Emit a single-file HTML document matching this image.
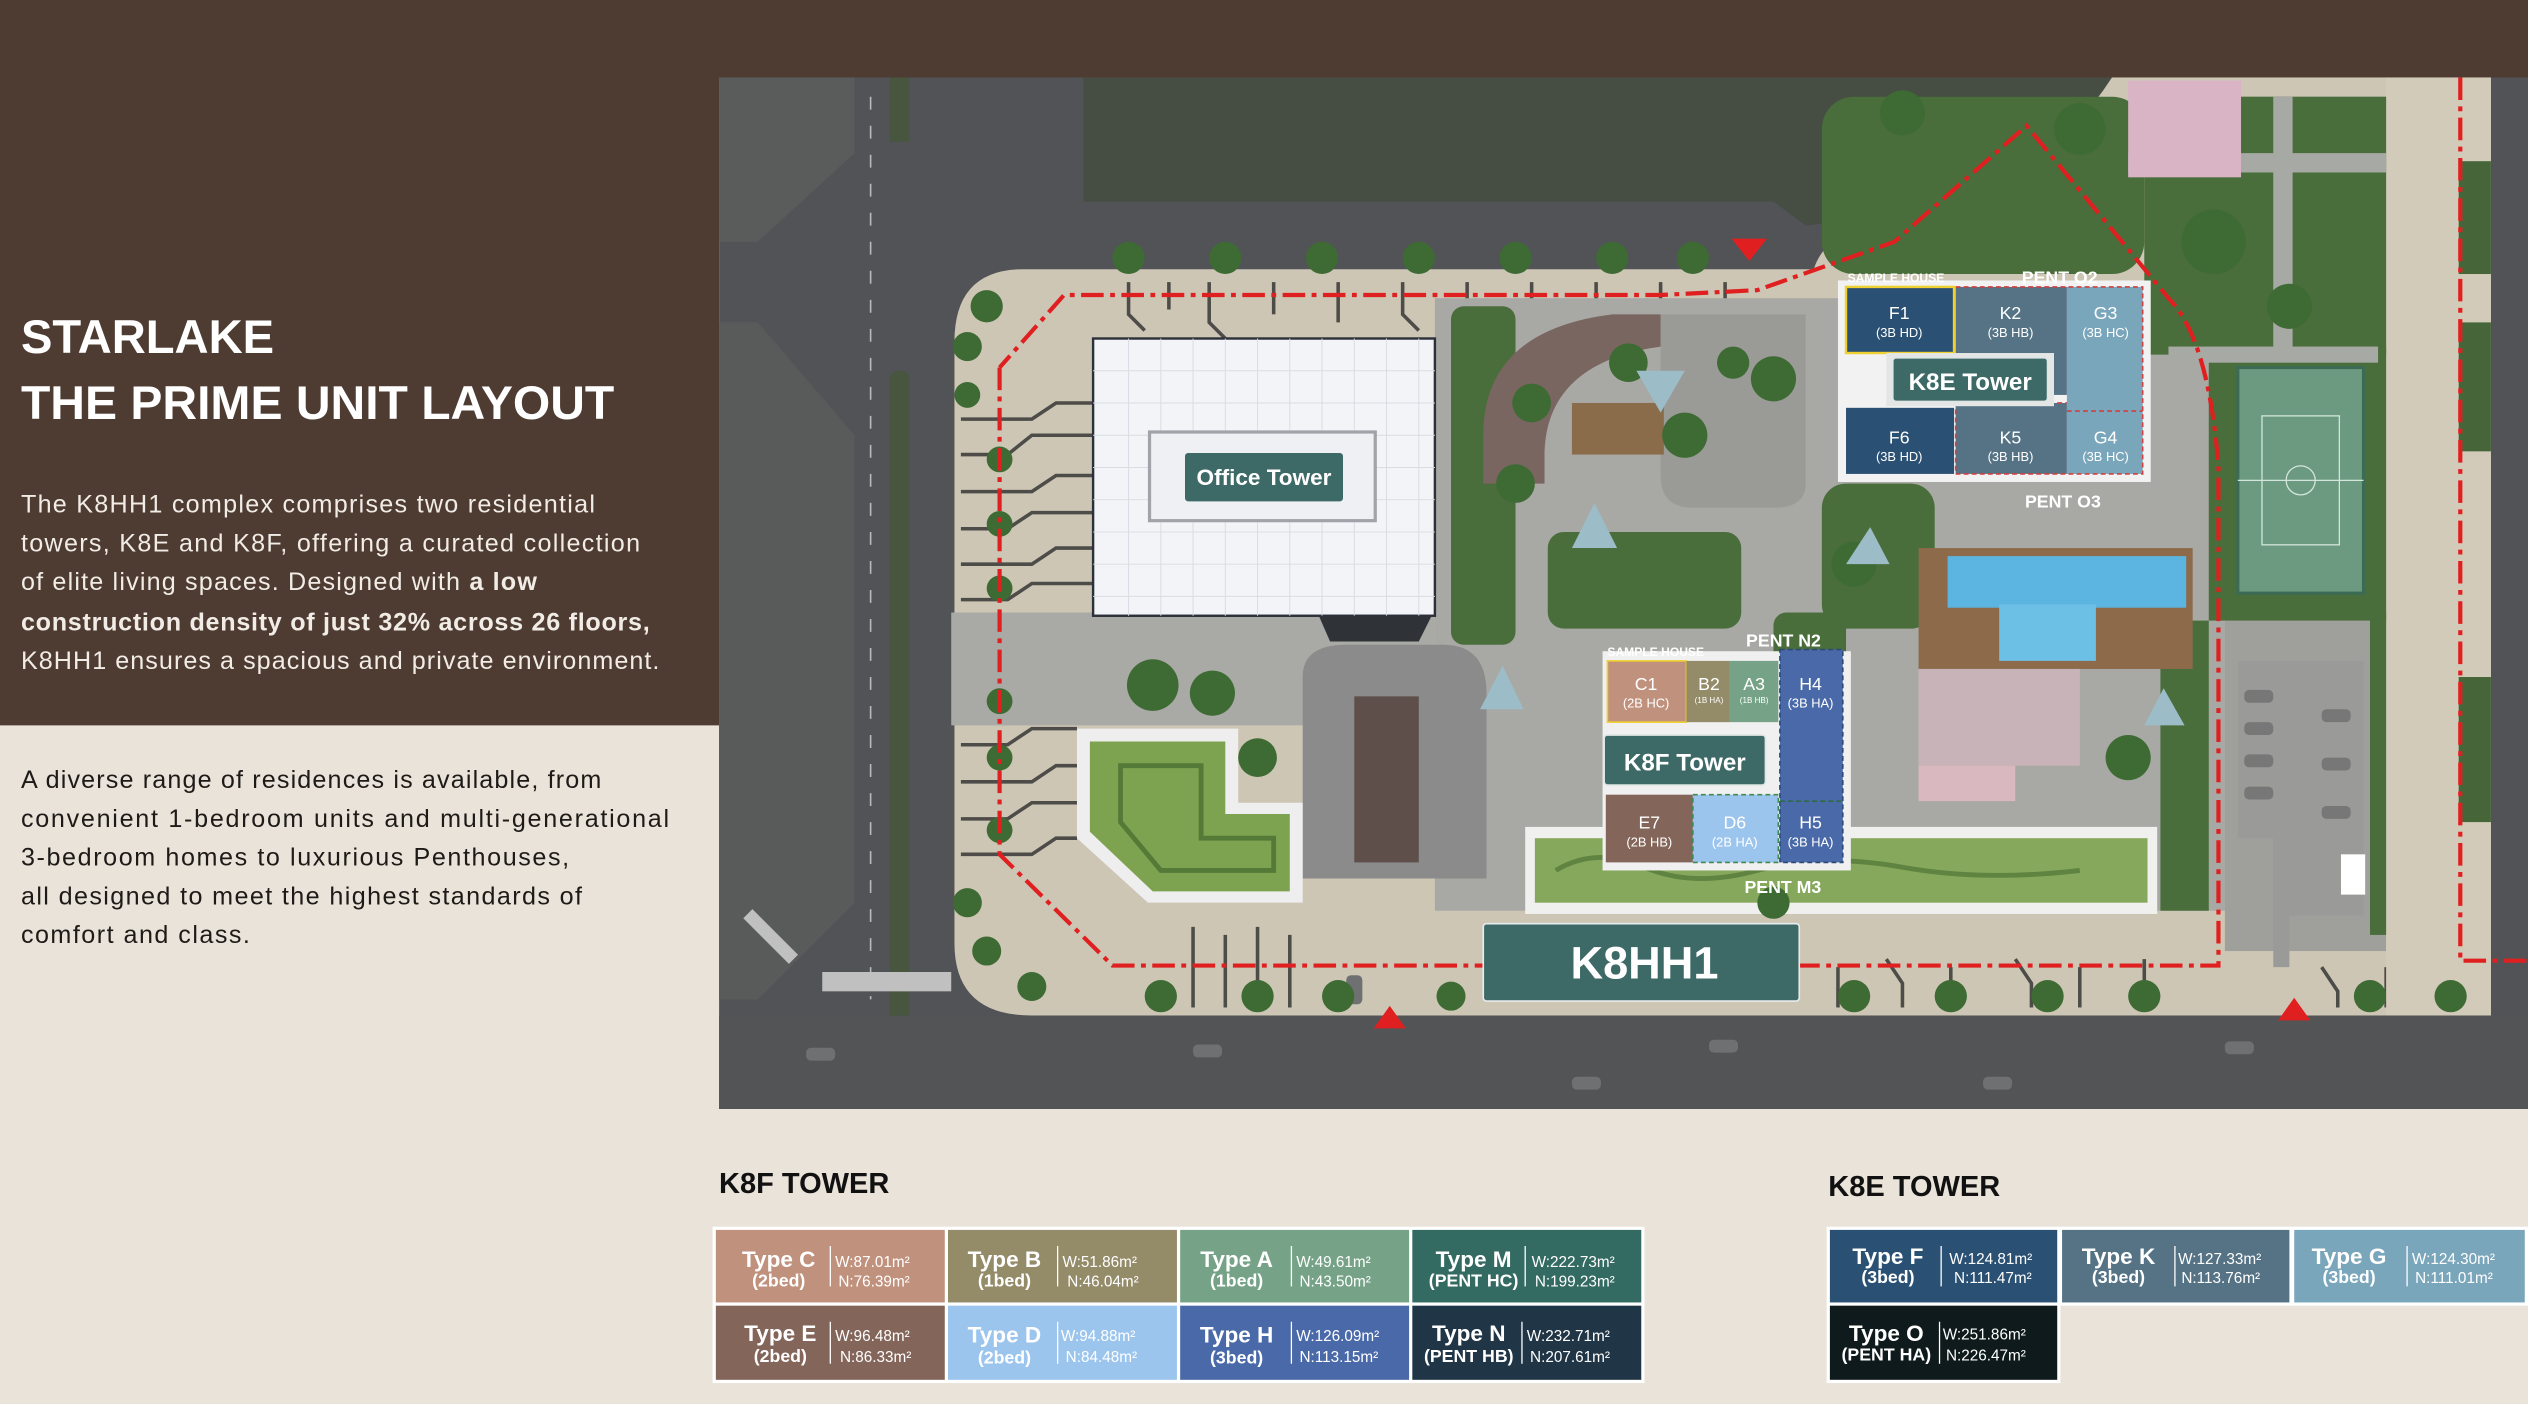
<!DOCTYPE html>
<html><head><meta charset="utf-8"><style>
html,body{margin:0;padding:0;background:#e9e3d9;}
svg{display:block}
.t{font-family:"Liberation Sans",sans-serif}
.n{font-family:"Liberation Sans Narrow","Liberation Sans",sans-serif}
</style></head><body>
<svg width="2528" height="1404" viewBox="0 0 1568 871" preserveAspectRatio="none" xmlns="http://www.w3.org/2000/svg">
<rect x="0" y="0" width="1568" height="871" fill="#e9e3d9"/>
<rect x="0" y="0" width="1568" height="49" fill="#4e3c33"/>
<rect x="0" y="0" width="446" height="450" fill="#4e3c33"/>
<g class="t" fill="#fff">
<text x="13" y="219" font-size="29.5" font-weight="bold" textLength="157" lengthAdjust="spacingAndGlyphs">STARLAKE</text>
<text x="13" y="260" font-size="29.5" font-weight="bold" textLength="368" lengthAdjust="spacingAndGlyphs">THE PRIME UNIT LAYOUT</text>
</g>
<g class="t" font-size="15.6" fill="#f1ece6">
<text x="13" y="318" textLength="356">The K8HH1 complex comprises two residential</text>
<text x="13" y="342" textLength="384">towers, K8E and K8F, offering a curated collection</text>
<text x="13" y="366" textLength="320">of elite living spaces. Designed with <tspan font-weight="bold">a low</tspan></text>
<text x="13" y="391" font-weight="bold" textLength="390">construction density of just 32% across 26 floors,</text>
<text x="13" y="415" textLength="396">K8HH1 ensures a spacious and private environment.</text>
</g>
<g class="t" font-size="15.6" fill="#1e1a17">
<text x="13" y="489" textLength="360">A diverse range of residences is available, from</text>
<text x="13" y="513" textLength="402">convenient 1-bedroom units and multi-generational</text>
<text x="13" y="537" textLength="340">3-bedroom homes to luxurious Penthouses,</text>
<text x="13" y="561" textLength="348">all designed to meet the highest standards of</text>
<text x="13" y="585" textLength="142">comfort and class.</text>
</g>

<!-- MAP -->
<svg x="446" y="48" width="1122" height="640" viewBox="446 48 1122 640" overflow="hidden">
<rect x="446" y="48" width="1122" height="640" fill="#515356"/>
<polygon points="446,48 530,48 530,95 470,150 446,150" fill="#5a5c5c"/>
<polygon points="446,200 470,200 530,270 530,560 470,620 446,620" fill="#595b5b"/>
<rect x="552" y="230" width="12" height="470" fill="#48563f" rx="5"/>
<rect x="552" y="48" width="12" height="40" fill="#48563f"/>
<polygon points="672,48 1330,48 1300,80 1250,110 1190,130 1120,140 1100,125 672,125" fill="#464d43"/>
<path d="M635,167 L1125,167 Q1135,135 1200,130 Q1270,110 1310,48 L1545,48 L1545,630 L640,630 Q592,630 592,585 L592,212 Q592,167 635,167 Z" fill="#cdc6b5"/>
<g stroke="#4d4c48" stroke-width="2.2" fill="none">
<path d="M596,260 H640 L655,250 H680"/><path d="M596,282 H625 L640,270 H680"/><path d="M596,305 H640 L655,295 H680"/><path d="M596,328 H625 L640,318 H680"/><path d="M596,350 H640 L655,340 H680"/><path d="M596,372 H625 L640,362 H680"/>
<path d="M596,440 H640 L655,430 H668"/><path d="M596,462 H625 L640,452 H668"/><path d="M596,485 H640 L655,475 H668"/><path d="M596,508 H625 L640,498 H668"/><path d="M596,530 H640 L655,520 H668"/>
<path d="M700,175 V195 L710,205"/><path d="M725,175 V192"/><path d="M750,175 V200 L760,210"/><path d="M790,175 V195"/><path d="M830,175 V200"/><path d="M870,175 V195 L880,205"/><path d="M910,175 V200"/><path d="M950,175 V195"/><path d="M990,175 V200"/><path d="M1030,175 V195"/><path d="M1070,175 V200"/>
<path d="M740,575 V625"/><path d="M760,580 V625"/><path d="M780,575 V625"/><path d="M800,580 V625"/><path d="M1140,600 V625"/><path d="M1170,595 L1180,610 V625"/><path d="M1210,600 V625"/><path d="M1250,595 L1260,610 V625"/><path d="M1290,600 V625"/><path d="M1330,595 V625"/><path d="M1440,600 L1450,615 V625"/><path d="M1480,600 V625"/>
</g>
<rect x="890" y="185" width="490" height="380" fill="#a8a8a4"/>
<rect x="590" y="380" width="300" height="70" fill="#a9a9a5"/>
<rect x="1380" y="60" width="100" height="530" fill="#9fa09b"/>
<rect x="1480" y="48" width="65" height="582" fill="#d3cbb9"/>
<g fill="#46663a"><rect x="1525" y="100" width="20" height="70"/><rect x="1525" y="200" width="20" height="80"/><rect x="1525" y="420" width="20" height="90"/></g>
<g fill="#4a6e3b">
<rect x="1130" y="60" width="200" height="110" rx="20"/>
<rect x="1330" y="60" width="150" height="160"/>
<rect x="1370" y="215" width="110" height="170"/>
<rect x="1470" y="380" width="10" height="200"/>
<rect x="1130" y="300" width="70" height="90" rx="15"/>
<rect x="900" y="190" width="40" height="210" rx="8"/>
<rect x="1100" y="380" width="45" height="130" rx="8"/>
<rect x="960" y="330" width="120" height="60" rx="10"/>
<rect x="1340" y="385" width="30" height="180"/>
</g>
<g fill="#a7a9a4"><rect x="1320" y="95" width="160" height="12"/><rect x="1410" y="60" width="12" height="160"/><rect x="1345" y="215" width="130" height="10"/></g>
<rect x="1320" y="50" width="70" height="60" fill="#d8b4c5"/>
<path d="M1030,195 H1120 V300 Q1120,315 1100,315 H1050 Q1030,315 1030,295 Z" fill="#9a9a97"/>
<path d="M920,270 Q920,205 1000,195 L1030,195 L1030,215 Q960,225 958,280 L958,300 L920,300 Z" fill="#7a6660"/>
<rect x="975" y="250" width="57" height="32" fill="#8b6c4a"/>
<rect x="678" y="210" width="212" height="172" fill="#f2f4f7" stroke="#2c3038" stroke-width="1.5"/>
<g stroke="#d8dde4" stroke-width="0.6">
<path d="M678,230H890M678,250H890M678,270H890M678,290H890M678,310H890M678,330H890M678,350H890M678,370H890"/>
<path d="M700,210V382M720,210V382M740,210V382M760,210V382M780,210V382M800,210V382M820,210V382M840,210V382M860,210V382M880,210V382"/>
</g>
<rect x="713" y="268" width="140" height="55" fill="#eef0f3" stroke="#a0a4aa" stroke-width="2"/>
<rect x="735" y="281" width="98" height="30" rx="2" fill="#3d6a67"/>
<text x="784" y="301" class="t" font-size="14" font-weight="bold" fill="#fff" text-anchor="middle">Office Tower</text>
<path d="M818,382 L825,398 H880 L888,382 Z" fill="#2f3338"/>
<path d="M808,420 Q808,400 835,400 H895 Q922,400 922,430 V545 H808 Z" fill="#8a8b8a"/>
<rect x="840" y="432" width="40" height="103" fill="#5e4f4b"/>
<path d="M668,452 H768 V498 H808 V560 H712 L668,520 Z" fill="#eeeeee"/>
<path d="M676,460 H760 V505 H800 V553 H715 L676,516 Z" fill="#7ea350"/>
<path d="M695,475 H745 V520 H790 V540 H720 L695,510 Z" fill="none" stroke="#557a38" stroke-width="3"/>
<rect x="946" y="513" width="392" height="54" fill="#f0f0ee"/>
<rect x="952" y="520" width="380" height="40" fill="#86a85c"/>
<path d="M965,540 Q990,525 1020,538 T1090,540 T1180,538 T1290,540" stroke="#5f8340" stroke-width="3" fill="none"/>
<rect x="1190" y="340" width="170" height="75" fill="#8d6a4a"/>
<rect x="1208" y="345" width="148" height="32" fill="#5cb5e0"/>
<rect x="1240" y="375" width="60" height="35" fill="#6cc0e6"/>
<rect x="1190" y="415" width="100" height="60" fill="#c8b4b8"/>
<rect x="1190" y="475" width="60" height="22" fill="#d9b8c0"/>
<rect x="1388" y="228" width="78" height="140" fill="#6b9a80" stroke="#3c6b55" stroke-width="2"/>
<g stroke="#d4e6dc" stroke-width="0.8" fill="none"><rect x="1403" y="258" width="48" height="80"/><line x1="1388" y1="298" x2="1466" y2="298"/><circle cx="1427" cy="298" r="9"/></g>
<path d="M1388,410 H1466 V568 H1420 V600 H1410 V520 H1388 Z" fill="#9a9a98"/>
<g fill="#777"><rect x="1392" y="428" width="18" height="8" rx="3"/><rect x="1392" y="448" width="18" height="8" rx="3"/><rect x="1392" y="468" width="18" height="8" rx="3"/><rect x="1392" y="488" width="18" height="8" rx="3"/><rect x="1440" y="440" width="18" height="8" rx="3"/><rect x="1440" y="470" width="18" height="8" rx="3"/><rect x="1440" y="500" width="18" height="8" rx="3"/></g>
<rect x="1452" y="530" width="15" height="25" fill="#fff"/>
<g stroke="#b9b9b9" stroke-width="1" stroke-dasharray="8,10" fill="none">
<path d="M540,60 V620"/><path d="M700,662 H1568"/>
</g>
<g fill="#c0c0c0"><rect x="458" y="577" width="40" height="8" transform="rotate(45 478 581)"/><rect x="510" y="603" width="80" height="12"/></g>
<rect x="446" y="630" width="1122" height="58" fill="#525456"/>
<g fill="#6f7072"><rect x="500" y="650" width="18" height="8" rx="3"/><rect x="740" y="648" width="18" height="8" rx="3"/><rect x="975" y="668" width="18" height="8" rx="3"/><rect x="1060" y="645" width="18" height="8" rx="3"/><rect x="1230" y="668" width="18" height="8" rx="3"/><rect x="1380" y="646" width="18" height="8" rx="3"/><rect x="835" y="605" width="10" height="18" rx="3"/></g>
<g fill="#3e6a34">
<circle cx="612" cy="190" r="10"/><circle cx="600" cy="215" r="9"/><circle cx="600" cy="245" r="8"/><circle cx="620" cy="285" r="8"/><circle cx="620" cy="325" r="8"/><circle cx="620" cy="365" r="8"/><circle cx="620" cy="435" r="8"/><circle cx="620" cy="470" r="8"/><circle cx="620" cy="515" r="8"/><circle cx="600" cy="560" r="9"/><circle cx="612" cy="590" r="9"/><circle cx="640" cy="612" r="9"/><circle cx="700" cy="160" r="10"/><circle cx="760" cy="160" r="10"/><circle cx="820" cy="160" r="10"/><circle cx="880" cy="160" r="10"/><circle cx="940" cy="160" r="10"/><circle cx="1000" cy="160" r="10"/><circle cx="1050" cy="160" r="10"/><circle cx="720" cy="618" r="10"/><circle cx="780" cy="618" r="10"/><circle cx="830" cy="618" r="10"/><circle cx="900" cy="618" r="9"/><circle cx="1150" cy="618" r="10"/><circle cx="1210" cy="618" r="10"/><circle cx="1270" cy="618" r="10"/><circle cx="1330" cy="618" r="10"/><circle cx="1470" cy="618" r="10"/><circle cx="1520" cy="618" r="10"/><circle cx="715" cy="425" r="16"/><circle cx="752" cy="430" r="14"/><circle cx="780" cy="470" r="12"/><circle cx="1373" cy="150" r="20"/><circle cx="1420" cy="190" r="14"/><circle cx="1290" cy="80" r="16"/><circle cx="1180" cy="70" r="14"/><circle cx="1100" cy="235" r="14"/><circle cx="1150" cy="350" r="14"/><circle cx="1010" cy="225" r="12"/><circle cx="940" cy="300" r="12"/><circle cx="1045" cy="270" r="14"/><circle cx="1075" cy="225" r="10"/><circle cx="950" cy="250" r="12"/><circle cx="1100" cy="560" r="10"/><circle cx="1320" cy="470" r="14"/></g>
<g fill="#9cbcc8"><path d="M1015,230 L1045,230 L1030,256 Z"/><path d="M975,340 L1003,340 L989,312 Z"/><path d="M918,440 L945,440 L932,413 Z"/><path d="M1145,350 L1172,350 L1160,327 Z"/><path d="M1330,450 L1355,450 L1342,427 Z"/></g>
<rect x="1140" y="174" width="194" height="125" fill="#f2f2f2"/>
<rect x="1145" y="178" width="67" height="41" fill="#2a5073" stroke="#f0d030" stroke-width="1.5"/>
<rect x="1213" y="178" width="69" height="67" fill="#557385"/>
<rect x="1282" y="178" width="47" height="77" fill="#7aa6bb"/>
<rect x="1145" y="253" width="67" height="41" fill="#2a5073"/>
<rect x="1213" y="250" width="69" height="44" fill="#557385"/>
<rect x="1282" y="255" width="47" height="39" fill="#7aa6bb"/>
<path d="M1213,178 H1329 V294 H1213 V250 H1282 M1282,255 H1329" fill="none" stroke="#d04040" stroke-width="1" stroke-dasharray="3,2"/>
<rect x="1170" y="219" width="104" height="33" fill="#e4e6e6"/>
<rect x="1174" y="222" width="96" height="27" rx="2" fill="#3d6a67" stroke="#dfe5e4" stroke-width="1"/>
<text x="1222" y="242" class="t" font-size="15" font-weight="bold" fill="#fff" text-anchor="middle">K8E Tower</text>
<g class="t" fill="#fff" text-anchor="middle">
<text x="1178" y="198" font-size="11">F1</text><text x="1178" y="209" font-size="8">(3B HD)</text>
<text x="1247" y="198" font-size="11">K2</text><text x="1247" y="209" font-size="8">(3B HB)</text>
<text x="1306" y="198" font-size="11">G3</text><text x="1306" y="209" font-size="8">(3B HC)</text>
<text x="1178" y="275" font-size="11">F6</text><text x="1178" y="286" font-size="8">(3B HD)</text>
<text x="1247" y="275" font-size="11">K5</text><text x="1247" y="286" font-size="8">(3B HB)</text>
<text x="1306" y="275" font-size="11">G4</text><text x="1306" y="286" font-size="8">(3B HC)</text>
</g>
<g class="t" fill="#fff" font-weight="bold">
<text x="1146" y="175" font-size="7.5">SAMPLE HOUSE</text>
<text x="1254" y="176" font-size="11">PENT O2</text>
<text x="1256" y="315" font-size="11">PENT O3</text>
</g>
<rect x="994" y="404" width="154" height="136" fill="#f0f0f0"/>
<rect x="997" y="410" width="49" height="38" fill="#c0917c" stroke="#f0d030" stroke-width="1"/>
<rect x="1046" y="410" width="27" height="38" fill="#948b69"/>
<rect x="1073" y="410" width="30" height="38" fill="#76a387"/>
<rect x="1104" y="403" width="39" height="132" fill="#4a69a8" stroke="#2b4a78" stroke-width="1" stroke-dasharray="3,2"/>
<line x1="1104" y1="497" x2="1143" y2="497" stroke="#2f6a4a" stroke-dasharray="3,2"/>
<rect x="996" y="493" width="54" height="42" fill="#84655a"/>
<rect x="1050" y="493" width="53" height="42" fill="#9cc5ee" stroke="#3f8a4f" stroke-width="1" stroke-dasharray="3,2"/>
<rect x="995" y="456" width="100" height="31" rx="2" fill="#3d6a67" stroke="#e0e6e5" stroke-width="1"/>
<text x="1045" y="478" class="t" font-size="15" font-weight="bold" fill="#fff" text-anchor="middle">K8F Tower</text>
<g class="t" fill="#fff" text-anchor="middle">
<text x="1021" y="428" font-size="11">C1</text><text x="1021" y="439" font-size="8">(2B HC)</text>
<text x="1060" y="428" font-size="11">B2</text><text x="1060" y="436" font-size="5">(1B HA)</text>
<text x="1088" y="428" font-size="11">A3</text><text x="1088" y="436" font-size="5">(1B HB)</text>
<text x="1123" y="428" font-size="11">H4</text><text x="1123" y="439" font-size="8">(3B HA)</text>
<text x="1023" y="514" font-size="11">E7</text><text x="1023" y="525" font-size="8">(2B HB)</text>
<text x="1076" y="514" font-size="11">D6</text><text x="1076" y="525" font-size="8">(2B HA)</text>
<text x="1123" y="514" font-size="11">H5</text><text x="1123" y="525" font-size="8">(3B HA)</text>
</g>
<g class="t" fill="#fff" font-weight="bold">
<text x="997" y="407" font-size="7.5">SAMPLE HOUSE</text>
<text x="1083" y="401" font-size="11">PENT N2</text>
<text x="1082" y="554" font-size="11">PENT M3</text>
</g>
<g stroke="#e02020" stroke-width="2.6" fill="none" stroke-dasharray="14,4,3,4">
<path d="M620,228 V530 L690,599 H1376 V290 Q1370,210 1345,185 L1257,78 L1175,150 L1090,180 L1030,183 H660 L620,228"/>
<path d="M1526,48 V596 H1568"/>
</g>
<g fill="#e02020"><path d="M1074,148 H1096 L1085,162 Z"/><path d="M852,638 H872 L862,624 Z"/><path d="M1413,633 H1433 L1423,619 Z"/></g>
<rect x="920" y="573" width="196" height="48" rx="2" fill="#3d6a67" stroke="#e8ecec" stroke-width="1"/>
<text x="1020" y="607" class="t" font-size="28" font-weight="bold" fill="#fff" text-anchor="middle">K8HH1</text>
</svg>

<g class="t" font-weight="bold" fill="#111">
<text x="446" y="740" font-size="18">K8F TOWER</text>
<text x="1134" y="742" font-size="18">K8E TOWER</text>
</g>
<rect x="442" y="761" width="578" height="97" fill="#fff"/>
<rect x="1133" y="761" width="435" height="49" fill="#fff"/>
<rect x="1133" y="809" width="145" height="49" fill="#fff"/>
<g class="n" fill="#fff" font-weight="bold">
<rect x="444" y="763" width="142" height="45" fill="#c0917c"/><rect x="588" y="763" width="142" height="45" fill="#948b69"/><rect x="732" y="763" width="142" height="45" fill="#76a387"/><rect x="876" y="763" width="142" height="45" fill="#336a62"/>
<rect x="444" y="810" width="142" height="46" fill="#84655a"/><rect x="588" y="810" width="142" height="46" fill="#9cc5ee"/><rect x="732" y="810" width="142" height="46" fill="#4a69a8"/><rect x="876" y="810" width="142" height="46" fill="#203545"/>
<rect x="1135" y="763" width="141" height="45" fill="#2a5073"/><rect x="1279" y="763" width="141" height="45" fill="#557385"/><rect x="1423" y="763" width="143" height="45" fill="#7aa6bb"/>
<rect x="1135" y="810" width="141" height="46" fill="#0e1a1b"/>
<g stroke="#fff" stroke-width="0.8"><path d="M515,773V798M656,773V798M801,773V798M946,773V798M515,820V846M656,820V846M801,820V846M944,820V846M1204,773V798M1349,773V798M1493,773V798M1203,820V846"/></g>
<g text-anchor="middle" font-size="14"><text x="483" y="786">Type C</text><text x="623" y="786">Type B</text><text x="767" y="786">Type A</text><text x="914" y="786">Type M</text><text x="484" y="832">Type E</text><text x="623" y="833">Type D</text><text x="767" y="833">Type H</text><text x="911" y="832">Type N</text><text x="1171" y="784">Type F</text><text x="1314" y="784">Type K</text><text x="1457" y="784">Type G</text><text x="1170" y="832">Type O</text></g>
<g text-anchor="middle" font-size="11"><text x="483" y="798">(2bed)</text><text x="623" y="798">(1bed)</text><text x="767" y="798">(1bed)</text><text x="914" y="798">(PENT HC)</text><text x="484" y="845">(2bed)</text><text x="623" y="846">(2bed)</text><text x="767" y="846">(3bed)</text><text x="911" y="845">(PENT HB)</text><text x="1171" y="796">(3bed)</text><text x="1314" y="796">(3bed)</text><text x="1457" y="796">(3bed)</text><text x="1170" y="844">(PENT HA)</text></g>
<g font-size="9.5" font-weight="normal"><text x="518" y="786">W:87.01m²</text><text x="520" y="798">N:76.39m²</text><text x="659" y="786">W:51.86m²</text><text x="662" y="798">N:46.04m²</text><text x="804" y="786">W:49.61m²</text><text x="806" y="798">N:43.50m²</text><text x="950" y="786">W:222.73m²</text><text x="952" y="798">N:199.23m²</text>
<text x="518" y="832">W:96.48m²</text><text x="521" y="845">N:86.33m²</text><text x="658" y="832">W:94.88m²</text><text x="661" y="845">N:84.48m²</text><text x="804" y="832">W:126.09m²</text><text x="806" y="845">N:113.15m²</text><text x="947" y="832">W:232.71m²</text><text x="949" y="845">N:207.61m²</text>
<text x="1209" y="784">W:124.81m²</text><text x="1212" y="796">N:111.47m²</text><text x="1351" y="784">W:127.33m²</text><text x="1353" y="796">N:113.76m²</text><text x="1496" y="784">W:124.30m²</text><text x="1498" y="796">N:111.01m²</text><text x="1205" y="831">W:251.86m²</text><text x="1207" y="844">N:226.47m²</text></g>
</g>
</svg>
</body></html>
